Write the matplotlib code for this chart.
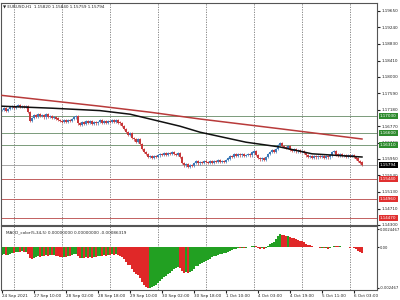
import numpy as np
import matplotlib.pyplot as plt

# EURUSD H1 closes, one per bar from 24 Sep 18:00
closes = [
    1.1718, 1.1721, 1.1716, 1.1720, 1.1724, 1.1726, 1.1723, 1.1727, 1.1729, 1.1726,
    1.1728, 1.1725, 1.1727, 1.1712, 1.1691, 1.1698, 1.1705, 1.1700, 1.1707, 1.1702,
    1.1704, 1.1699, 1.1706, 1.1701, 1.1703, 1.1698, 1.1700, 1.1696, 1.1693, 1.1690,
    1.1688, 1.1691, 1.1687, 1.1692, 1.1690, 1.1695, 1.1699, 1.1702, 1.1684, 1.1680,
    1.1686, 1.1683, 1.1689, 1.1685, 1.1690, 1.1682, 1.1688, 1.1684, 1.1687, 1.1691,
    1.1686, 1.1689, 1.1685, 1.1690, 1.1687, 1.1692, 1.1688, 1.1691, 1.1686, 1.1684,
    1.1678, 1.1670, 1.1662, 1.1655, 1.1660, 1.1648, 1.1644, 1.1638, 1.1645, 1.1632,
    1.1620, 1.1612, 1.1608, 1.1600, 1.1603, 1.1598, 1.1602, 1.1600, 1.1604, 1.1607,
    1.1605, 1.1609, 1.1606, 1.1610, 1.1607, 1.1611, 1.1608, 1.1606, 1.1609, 1.1600,
    1.1585, 1.1579, 1.1583, 1.1576, 1.1580, 1.1577, 1.1585, 1.1590, 1.1584, 1.1588,
    1.1586, 1.1590, 1.1587, 1.1585, 1.1589, 1.1586, 1.1590, 1.1588, 1.1591, 1.1587,
    1.1590, 1.1588, 1.1592, 1.1596, 1.1603, 1.1600, 1.1606, 1.1603, 1.1607, 1.1604,
    1.1606, 1.1602, 1.1605, 1.1608, 1.1604, 1.1611, 1.1614, 1.1605, 1.1598, 1.1594,
    1.1597, 1.1593, 1.1600, 1.1608, 1.1613, 1.1616, 1.1612, 1.1620, 1.1630, 1.1634,
    1.1628, 1.1625, 1.1622, 1.1626, 1.1618, 1.1616, 1.1619, 1.1614, 1.1617, 1.1612,
    1.1615, 1.1610, 1.1604, 1.1600, 1.1603, 1.1598, 1.1601, 1.1599, 1.1603, 1.1600,
    1.1602, 1.1598, 1.1601, 1.1599, 1.1604, 1.1612, 1.1614, 1.1606, 1.1604, 1.1607,
    1.1603, 1.1605, 1.1601, 1.1604, 1.1602, 1.1605, 1.1600, 1.1596, 1.1590, 1.1586,
    1.15794,
]

# moving averages (bar index, price)
ma_black_idx = [0, 25, 49, 64, 74, 89, 99, 122, 139, 155, 180]
ma_black = [1.1727, 1.1722, 1.1716, 1.1707, 1.1695, 1.1677, 1.1662, 1.1637, 1.1625, 1.1608, 1.1600]
ma_red_idx = [0, 49, 74, 99, 140, 180]
ma_red = [1.1754, 1.1727, 1.1712, 1.1695, 1.1670, 1.1645]

# MACD_color histogram, x 1e-4
macd = [
    -4.5, -4.0, -4.6, -4.2, -3.6, -3.0, -3.3, -2.8, -2.4, -2.7,
    -2.3, -2.6, -2.4, -3.8, -6.0, -6.8, -6.2, -5.8, -5.2, -5.5,
    -5.0, -5.2, -4.6, -4.8, -4.4, -4.6, -4.3, -4.7, -5.0, -5.4,
    -5.6, -5.3, -5.6, -5.1, -5.2, -4.6, -4.0, -3.6, -5.0, -6.2,
    -6.0, -6.3, -5.8, -6.0, -5.5, -5.9, -5.4, -5.6, -5.2, -4.8,
    -5.0, -4.6, -4.9, -4.4, -4.6, -4.1, -4.3, -4.0, -4.4, -4.7,
    -5.5, -6.8, -8.5, -10.0, -10.4, -12.5, -14.0, -15.6, -15.8, -17.8,
    -20.0, -21.8, -22.8, -23.6, -23.4, -23.2, -22.6, -21.8, -20.6, -19.6,
    -18.4, -17.2, -16.4, -15.2, -14.6, -13.4, -12.8, -12.0, -11.4, -12.0,
    -13.4, -14.6, -14.2, -14.8, -14.0, -13.6, -12.4, -11.0, -10.6, -9.8,
    -9.0, -8.2, -7.6, -7.2, -6.5, -5.8, -5.2, -4.8, -4.2, -4.0,
    -3.6, -3.4, -3.0, -2.6, -1.8, -1.5, -0.9, -0.8, -0.4, -0.5,
    -0.2, -0.4, -0.1, 0.2, 0.1, 0.6, 1.0, 0.6, -0.2, -0.8,
    -0.6, -1.0, -0.5, 0.6, 1.8, 2.8, 3.2, 4.6, 6.4, 7.6,
    7.4, 7.0, 6.6, 6.8, 6.0, 5.4, 5.2, 4.6, 4.4, 3.8,
    3.6, 3.0, 2.2, 1.4, 1.2, 0.6, 0.4, 0.0, 0.2, -0.2,
    -0.2, -0.6, -0.5, -0.8, -0.6, 0.4, 1.0, 0.8, 0.6, 0.8,
    0.4, 0.5, 0.1, 0.2, -0.1, 0.1, -0.4, -1.0, -1.8, -2.5,
    -3.2,
]

price_ticks = [1.19650, 1.19240, 1.18830, 1.18410, 1.18000, 1.17590, 1.17180,
               1.16770, 1.16360, 1.15950, 1.15540, 1.15130, 1.14710, 1.14300]
green_levels = [1.17030, 1.16600, 1.16310]
red_levels = [1.15440, 1.14960, 1.14470]
last_price = 1.15794

date_pos = [0, 16, 32, 48, 64, 80, 96, 112, 128, 144, 160, 176]
date_labels = ["24 Sep 2021", "27 Sep 10:00", "28 Sep 02:00", "28 Sep 18:00",
               "29 Sep 10:00", "30 Sep 02:00", "30 Sep 18:00", "1 Oct 10:00",
               "4 Oct 03:00", "4 Oct 19:00", "5 Oct 11:00", "6 Oct 03:00"]
day_sep = [6, 30, 54, 78, 102, 126, 150, 174]

title = "\u25bc EURUSD,H1  1.15820 1.15840 1.15759 1.15794"
macd_title = "MACD_color(5,34,5) 0.00000000 0.00000000 -0.00086319"

fs = 3.0
fig = plt.figure(figsize=(4, 3), dpi=100)
ax = fig.add_axes([0.0025, 0.25, 0.94, 0.74])
ax2 = fig.add_axes([0.0025, 0.0333, 0.94, 0.2133])

closes = np.array(closes)
idx = np.arange(len(closes))
opens = np.r_[closes[0], closes[:-1]]
wick = 0.0003
highs = np.maximum(opens, closes) + wick
lows = np.minimum(opens, closes) - wick
up = closes >= opens
cols = np.where(up, "#3d7ab8", "#c8383a")

for a in (ax, ax2):
    for d in day_sep:
        a.axvline(d, color="#777777", lw=0.6, ls=(0, (1.5, 1.5)), zorder=0)
    a.set_xlim(-0.5, 187.5)
    for s in a.spines.values():
        s.set_color("#555555")
        s.set_linewidth(0.8)

box = dict(boxstyle="square,pad=0.25", ec="none")

# levels
for lv in green_levels:
    ax.axhline(lv, color="#7a9a7a", lw=0.7, zorder=1)
    ax.text(1.008, lv, "%.5f" % lv, transform=ax.get_yaxis_transform(), fontsize=fs,
            color="white", va="center", ha="left", clip_on=False, zorder=6,
            bbox=dict(box, fc="#2e8b2e"))
for lv in red_levels:
    ax.axhline(lv, color="#c26060", lw=0.7, zorder=1)
    ax.text(1.008, lv, "%.5f" % lv, transform=ax.get_yaxis_transform(), fontsize=fs,
            color="white", va="center", ha="left", clip_on=False, zorder=6,
            bbox=dict(box, fc="#e03030"))
ax.axhline(last_price, color="#999999", lw=0.6, zorder=1)
ax.text(1.008, last_price, "%.5f" % last_price, transform=ax.get_yaxis_transform(),
        fontsize=fs, color="white", va="center", ha="left", clip_on=False, zorder=6,
        bbox=dict(box, fc="black"))

# candles
ax.vlines(idx, lows, highs, colors=cols, lw=0.5, zorder=2)
ax.bar(idx, np.abs(closes - opens) + 0.00005, bottom=np.minimum(opens, closes),
       width=0.7, color=cols, zorder=3)

ax.plot(ma_red_idx, ma_red, color="#b83a3a", lw=1.1, zorder=4)
ax.plot(ma_black_idx, ma_black, color="#111111", lw=1.1, zorder=4)

ax.set_ylim(1.1430, 1.1985)
ax.yaxis.tick_right()
ax.set_yticks(price_ticks)
ax.set_yticklabels(["%.5f" % t for t in price_ticks])
ax.tick_params(axis="y", labelsize=fs, length=2, pad=1, colors="#222222")
ax.set_xticks([])
ax.text(0.005, 0.993, title, transform=ax.transAxes, fontsize=fs,
        va="top", ha="left", color="#222222")

# MACD panel
macd = np.array(macd) * 1e-4
prev = np.r_[macd[0], macd[:-1]]
mcols = np.where(macd >= prev, "#22a022", "#e02828")
ax2.bar(idx, macd, width=0.8, color=mcols, zorder=2)
ax2.set_ylim(-0.00247, 0.00124)
ax2.yaxis.tick_right()
ax2.set_yticks([0.00105, 0.0, -0.00235])
ax2.set_yticklabels(["0.0024467", "0.00", "-0.002467"])
ax2.tick_params(axis="y", labelsize=2.7, length=1.5, pad=0.5, colors="#222222")
ax2.set_xticks(date_pos)
ax2.set_xticklabels(date_labels, ha="left")
ax2.tick_params(axis="x", labelsize=fs, length=2, pad=1, colors="#222222")
ax2.text(0.012, 0.93, macd_title, transform=ax2.transAxes, fontsize=fs,
         va="top", ha="left", color="#222222")

fig.savefig("out.png", dpi=100)
